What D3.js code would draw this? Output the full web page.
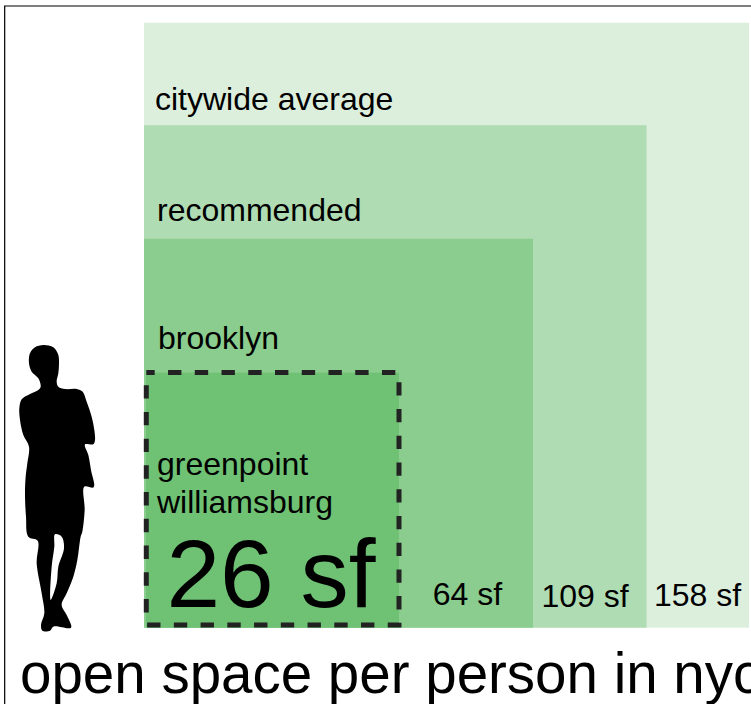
<!DOCTYPE html>
<html lang="en">
<head>
<meta charset="UTF-8">
<title>open space per person in nyc</title>
<script src="https://cdnjs.cloudflare.com/ajax/libs/d3/7.8.5/d3.min.js"></script>
<style>
html,body{margin:0;padding:0;background:#fff;overflow:hidden}
text{font-family:"Liberation Sans",Arial,sans-serif;fill:#000}
</style>
</head>
<body>
<script>
// areas in square feet, largest first so the small squares draw on top
var areas = [158, 109, 64, 26];
var areaLabels = ["158 sf", "109 sf", "64 sf", "26 sf"];
var names = [["citywide average"], ["recommended"], ["brooklyn"], ["greenpoint", "williamsburg"]];
var title = "open space per person in nyc";

var colors = ["#dcefdc", "#b0dcb3", "#8bcd8e", "#6fc174"];

// label placement, same order as areas
var nameX = [155, 157, 158, 157];
var nameY = [110, 221, 349, 475];
var valueX = [697.5, 585, 467.5, 271];
var valueY = [606, 606.5, 605, 607];
var valueSize = [32, 32, 32, 96.5];

var svg = d3.select("body").append("svg")
    .attr("width", 751).attr("height", 704)
    .style("display", "block");

var left = 144, bottom = 627.7;
// side of a square grows with the root of the area
var side = d3.scaleSqrt().domain([0, 26, 64, 109, 158]).range([0, 255, 389, 502.5, 605]);

// page frame
svg.append("rect").attr("x", 4).attr("y", 5).attr("width", 747).attr("height", 2).attr("fill", "#7f7f7f");
svg.append("rect").attr("x", 4).attr("y", 6).attr("width", 1.3).attr("height", 698).attr("fill", "#111");

svg.selectAll("rect.square").data(areas).enter().append("rect")
    .attr("class", "square")
    .attr("x", function(d){ return d == 26 ? left + 2 : left; })
    .attr("y", function(d){ return bottom - side(d); })
    .attr("width", function(d){ return d == 26 ? side(d) - 2 : side(d); })
    .attr("height", function(d){ return side(d); })
    .attr("fill", function(d, i){ return colors[i]; });

// dashed outline on the greenpoint square
svg.append("rect")
    .attr("x", left + 2.3)
    .attr("y", bottom - side(26) - 0.2)
    .attr("width", side(26) - 2.3)
    .attr("height", side(26) - 2.5)
    .attr("fill", "none")
    .attr("stroke", "#222")
    .attr("stroke-width", 5)
    .attr("stroke-dasharray", "13.37 13.37")
    .attr("stroke-dashoffset", 5);

areas.forEach(function(d, i){
    names[i].forEach(function(line, j){
        svg.append("text")
            .attr("x", nameX[i])
            .attr("y", nameY[i] + j * 38)
            .style("font-size", "32px")
            .text(line);
    });
    svg.append("text")
        .attr("x", valueX[i])
        .attr("y", valueY[i])
        .attr("text-anchor", "middle")
        .style("font-size", valueSize[i] + "px")
        .text(areaLabels[i]);
});

svg.append("text")
    .attr("x", 20).attr("y", 693)
    .style("font-size", "56.5px")
    .text(title);

// person silhouette for scale, traced by hand at 3x
var outline = [[130,45],[160,52],[175,75],[177,100],[175,130],[170,155],[175,170],[195,177],[230,177],[248,185],[260,215],[275,260],[283,300],[285,330],[280,343],[255,343],[265,375],[273,420],[281,472],[253,470],[254,540],[247,605],[242,620],[232,690],[220,740],[200,790],[185,825],[200,855],[213,893],[160,890],[150,902],[127,902],[123,885],[133,850],[125,790],[110,700],[113,632],[85,620],[78,560],[75,490],[77,440],[82,400],[87,350],[70,315],[60,270],[58,235],[65,208],[90,192],[115,180],[122,170],[115,145],[95,125],[87,100],[90,70],[105,52]];
var legGap = [[165,613],[185,620],[192,655],[175,710],[170,760],[152,810],[155,710],[163,650]];
var trace = d3.line().curve(d3.curveCatmullRomClosed.alpha(0.5));

svg.append("path")
    .attr("transform", "translate(0,330) scale(0.3333)")
    .attr("fill", "#000")
    .attr("fill-rule", "evenodd")
    .attr("d", trace(outline) + trace(legGap));
</script>
</body>
</html>
